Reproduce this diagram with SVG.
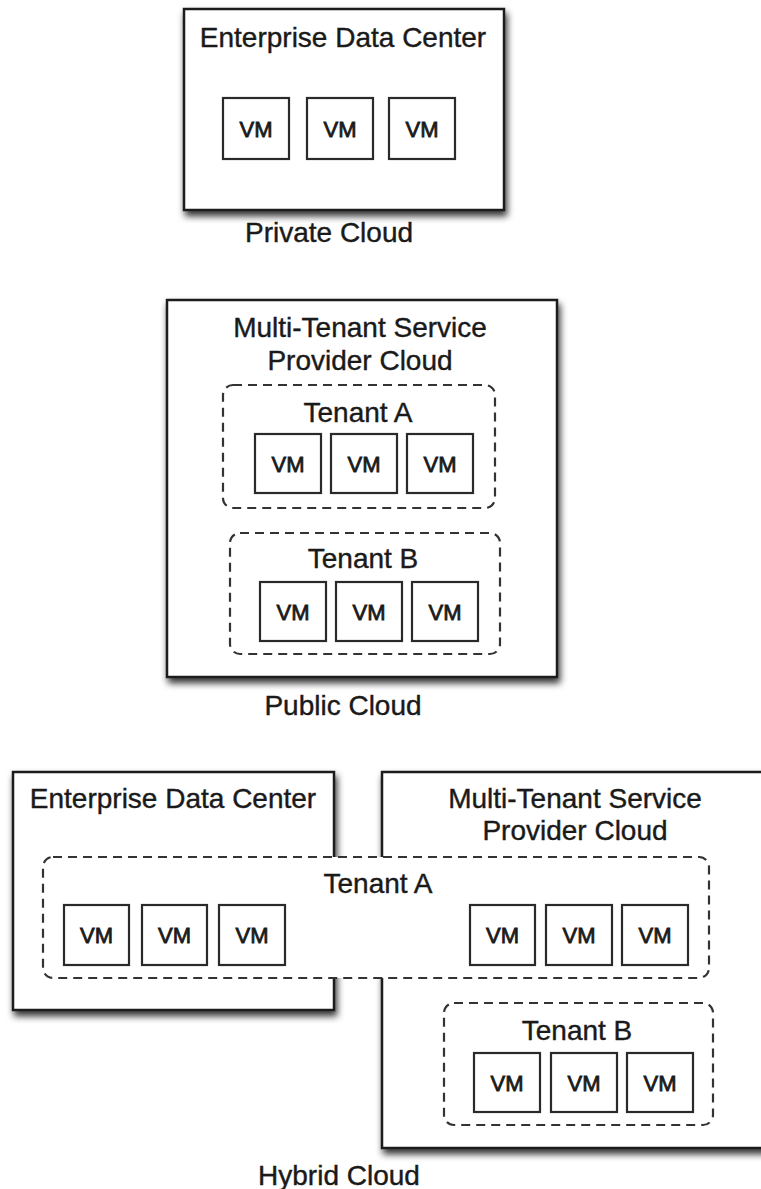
<svg xmlns="http://www.w3.org/2000/svg" width="761" height="1189" viewBox="0 0 761 1189">
<defs>
<filter id="shadow" x="-10%" y="-10%" width="130%" height="130%">
<feDropShadow dx="2" dy="5" stdDeviation="3.5" flood-color="#000" flood-opacity="0.8"/>
</filter>
<style>
.outer{fill:#fff;stroke:#1a1a1a;stroke-width:2.5;filter:url(#shadow)}
.tenant{fill:#fff;stroke:#333;stroke-width:2.2;stroke-dasharray:9 6}
.vm{fill:#fff;stroke:#2a2a2a;stroke-width:2.2}
text{font-family:"Liberation Sans",Arial,Helvetica,sans-serif;fill:#1a1a1a;stroke:#1a1a1a;stroke-width:0.4;text-anchor:middle}
.t{font-size:28px}
.v{font-size:22px;stroke-width:0.8}
</style>
</defs>
<rect width="761" height="1189" fill="#fff"/>

<!-- Private cloud -->
<g id="private-dc">
<rect class="outer" x="184" y="9" width="320" height="201"/>
<text class="t" x="343" y="47">Enterprise Data Center</text>
</g>
<g id="private-vm1"><rect class="vm" x="223" y="98" width="66" height="61"/><text class="v" x="256" y="137">VM</text></g>
<g id="private-vm2"><rect class="vm" x="307" y="98" width="66" height="61"/><text class="v" x="340" y="137">VM</text></g>
<g id="private-vm3"><rect class="vm" x="389" y="98" width="66" height="61"/><text class="v" x="422" y="137">VM</text></g>
<g id="private-label"><text class="t" x="329" y="242">Private Cloud</text></g>

<!-- Public cloud -->
<g id="public-provider">
<rect class="outer" x="167" y="300" width="390" height="377"/>
<text class="t" x="360" y="337">Multi-Tenant Service</text>
<text class="t" x="360" y="370">Provider Cloud</text>
</g>
<g id="public-tenant-a">
<rect class="tenant" x="223" y="385" width="272" height="123" rx="10"/>
<text class="t" x="358" y="422">Tenant A</text>
</g>
<g id="public-a-vm1"><rect class="vm" x="255" y="434" width="66" height="59"/><text class="v" x="288" y="472">VM</text></g>
<g id="public-a-vm2"><rect class="vm" x="331" y="434" width="66" height="59"/><text class="v" x="364" y="472">VM</text></g>
<g id="public-a-vm3"><rect class="vm" x="407" y="434" width="66" height="59"/><text class="v" x="440" y="472">VM</text></g>
<g id="public-tenant-b">
<rect class="tenant" x="230" y="533" width="270" height="121" rx="10"/>
<text class="t" x="363" y="568">Tenant B</text>
</g>
<g id="public-b-vm1"><rect class="vm" x="260" y="582" width="66" height="59"/><text class="v" x="293" y="620">VM</text></g>
<g id="public-b-vm2"><rect class="vm" x="336" y="582" width="66" height="59"/><text class="v" x="369" y="620">VM</text></g>
<g id="public-b-vm3"><rect class="vm" x="412" y="582" width="66" height="59"/><text class="v" x="445" y="620">VM</text></g>
<g id="public-label"><text class="t" x="343" y="715">Public Cloud</text></g>

<!-- Hybrid cloud -->
<g id="hybrid-dc">
<rect class="outer" x="13" y="772" width="321" height="238"/>
<text class="t" x="173" y="808">Enterprise Data Center</text>
</g>
<g id="hybrid-provider">
<rect class="outer" x="382" y="772" width="400" height="376"/>
<text class="t" x="575" y="808">Multi-Tenant Service</text>
<text class="t" x="575" y="840">Provider Cloud</text>
</g>
<g id="hybrid-tenant-a">
<rect class="tenant" x="43" y="857" width="666" height="121" rx="10"/>
<text class="t" x="378" y="893">Tenant A</text>
</g>
<g id="hybrid-a-vm1"><rect class="vm" x="64" y="905" width="65" height="60"/><text class="v" x="96.5" y="943">VM</text></g>
<g id="hybrid-a-vm2"><rect class="vm" x="142" y="905" width="65" height="60"/><text class="v" x="174.5" y="943">VM</text></g>
<g id="hybrid-a-vm3"><rect class="vm" x="219" y="905" width="66" height="60"/><text class="v" x="252" y="943">VM</text></g>
<g id="hybrid-a-vm4"><rect class="vm" x="470" y="905" width="65" height="60"/><text class="v" x="502.5" y="943">VM</text></g>
<g id="hybrid-a-vm5"><rect class="vm" x="546" y="905" width="66" height="60"/><text class="v" x="579" y="943">VM</text></g>
<g id="hybrid-a-vm6"><rect class="vm" x="622" y="905" width="66" height="60"/><text class="v" x="655" y="943">VM</text></g>
<g id="hybrid-tenant-b">
<rect class="tenant" x="444" y="1003" width="269" height="122" rx="10"/>
<text class="t" x="577" y="1040">Tenant B</text>
</g>
<g id="hybrid-b-vm1"><rect class="vm" x="474" y="1053" width="66" height="59"/><text class="v" x="507" y="1091">VM</text></g>
<g id="hybrid-b-vm2"><rect class="vm" x="551" y="1053" width="66" height="59"/><text class="v" x="584" y="1091">VM</text></g>
<g id="hybrid-b-vm3"><rect class="vm" x="627" y="1053" width="66" height="59"/><text class="v" x="660" y="1091">VM</text></g>
<g id="hybrid-label"><text class="t" x="339" y="1185">Hybrid Cloud</text></g>
</svg>
